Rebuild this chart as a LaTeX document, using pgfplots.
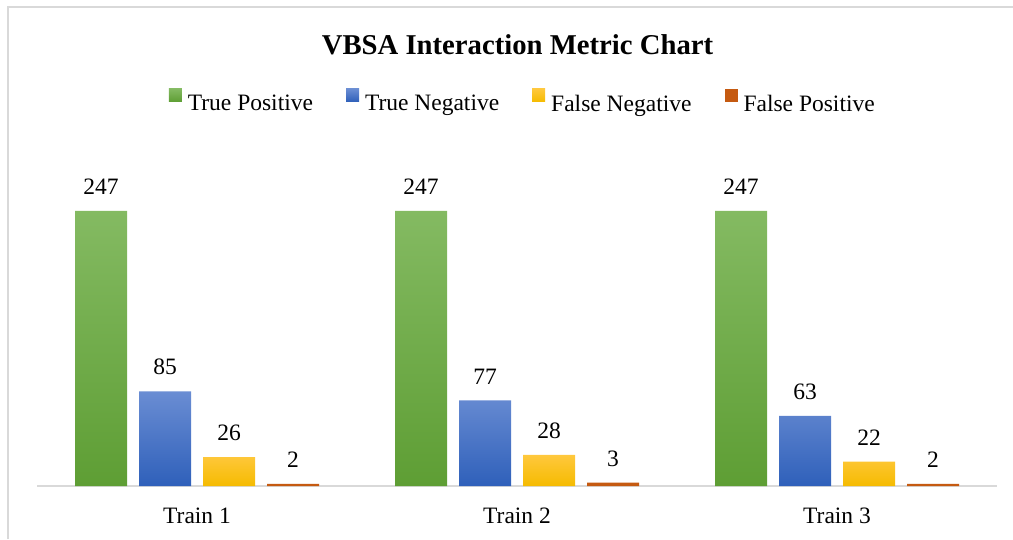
\documentclass[border=0pt]{standalone}
\usepackage{fontspec}
\setmainfont{Liberation Serif}
\usepackage{pgfplots}
\pgfplotsset{compat=1.18}
\definecolor{gTop}{HTML}{84BA62}
\definecolor{gBot}{HTML}{5E9E34}
\definecolor{bTop}{HTML}{6A8DD3}
\definecolor{bBot}{HTML}{2F60BA}
\definecolor{yTop}{HTML}{FFC83D}
\definecolor{yBot}{HTML}{F5BB00}
\definecolor{oCol}{HTML}{C55A11}
\definecolor{frameC}{HTML}{D9D9D9}
\begin{document}
\begin{tikzpicture}
\path[use as bounding box] (0pt,0pt) rectangle (1013pt,539pt);
\draw[frameC, line width=2pt] (8pt,0pt) -- (8pt,532pt) -- (1013pt,532pt);
\node[font=\fontsize{28.7}{34}\selectfont\bfseries, anchor=base, inner sep=0pt] at (517.5pt,484.7pt) {VBSA Interaction Metric Chart};
\begin{axis}[
  at={(37pt,53pt)}, anchor=south west,
  scale only axis, width=960pt, height=289.5pt,
  xmin=-0.5, xmax=2.5, ymin=0, ymax=260,
  ybar=12pt, bar width=52pt,
  axis y line=none, axis x line*=bottom,
  x axis line style={draw=frameC, line width=2pt, -},
  xtick={0,1,2}, xticklabels={Train 1,Train 2,Train 3},
  major tick length=0pt, ytick=\empty,
  xticklabel style={font=\fontsize{23.5}{28}\selectfont, inner sep=0pt, anchor=north, yshift=-22pt},
  nodes near coords,
  every node near coord/.append style={font=\fontsize{23.5}{28}\selectfont, inner sep=0pt, anchor=south, yshift=16pt, text=black},
  /pgf/number format/assume math mode=true,
  clip=false,
  legend columns=4,
  legend style={draw=none, fill=none, inner sep=0pt, at={(0.5050,1.331)}, anchor=center,
    font=\fontsize{23.5}{28}\selectfont,
    nodes={inner sep=0pt},
    /tikz/every odd column/.append style={column sep=6pt},
    /tikz/every even column/.append style={column sep=33pt}},
  legend image code/.code={\fill[#1] (0pt,2pt) rectangle (13pt,15pt);},
]
\addplot[draw=none, top color=gTop, bottom color=gBot] coordinates {(0,247) (1,247) (2,247)};
\addplot[draw=none, top color=bTop, bottom color=bBot] coordinates {(0,85) (1,77) (2,63)};
\addplot[draw=none, top color=yTop, bottom color=yBot] coordinates {(0,26) (1,28) (2,22)};
\addplot[draw=none, fill=oCol] coordinates {(0,2) (1,3) (2,2)};
\legend{True Positive, True Negative, False Negative, False Positive}
\end{axis}
\end{tikzpicture}
\end{document}
